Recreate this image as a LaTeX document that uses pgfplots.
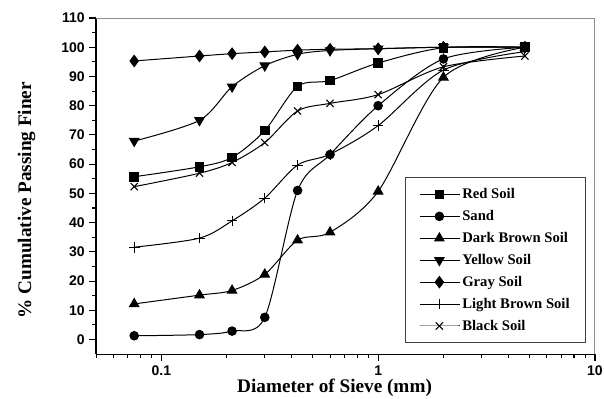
\documentclass[border=0pt]{standalone}
\usepackage{fontspec}
\setmainfont{Liberation Serif}
\newfontfamily\arialf{Liberation Sans}
\usepackage{pgfplots}
\pgfplotsset{compat=1.18}
\begin{document}
\begin{tikzpicture}
\begin{axis}[
  name=ax,
  scale only axis,
  width=374pt, height=252pt,
  xmode=log,
  xmin=0.05, xmax=10,
  ymin=-5, ymax=110,
  axis lines=left,
  axis line style={-, line width=0.9pt},
  xtick={0.1,1,10},
  xticklabels={0.1,1,10},
  xminorticks=true,
  minor xtick={0.05,0.06,0.07,0.08,0.09,0.2,0.3,0.4,0.5,0.6,0.7,0.8,0.9,2,3,4,5,6,7,8,9},
  ytick={0,10,...,110},
  minor y tick num=1,
  tick align=outside,
  major tick length=5pt,
  minor tick length=3pt,
  every tick/.style={black, line width=0.8pt},
  /pgf/number format/assume math mode=true,
  ticklabel style={font=\arialf\bfseries\fontsize{10.5}{12}\selectfont},
  xlabel={Diameter of Sieve (mm)},
  ylabel={\% Cumulative Passing Finer},
  every axis x label/.style={at={(axis description cs:0.478,-0.1)}, anchor=center, font=\bfseries\fontsize{14.4}{16}\selectfont},
  every axis y label/.style={at={(axis description cs:-0.139,0.458)}, anchor=center, rotate=90, font=\bfseries\fontsize{14.4}{16}\selectfont},
  legend style={at={(0.982,0.033)}, anchor=south east, draw=black!75, line width=0.5pt,
    font=\bfseries\fontsize{11}{13}\selectfont, row sep=3.3pt, inner xsep=10pt, inner ysep=6pt},
  legend cell align=left,
  legend image code/.code={\draw[mark repeat=2,mark phase=2] plot coordinates {(0cm,0cm) (0.52cm,0cm) (1.04cm,0cm)};},
]
\pgfplotsset{every axis plot/.append style={black, solid, line width=0.75pt, smooth, tension=0.5}}
\addplot[black, mark=square*, mark size=3.2pt, mark options={solid,fill=black}] coordinates {
 (0.075,55.7) (0.15,59.1) (0.212,62.3) (0.3,71.5) (0.425,86.6) (0.6,88.6) (1,94.6) (2,99.8) (4.75,100)};
\addlegendentry{Red Soil}
\addplot[black, mark=*, mark size=3.2pt, mark options={solid,fill=black}] coordinates {
 (0.075,1.3) (0.15,1.7) (0.212,2.9) (0.3,7.6) (0.425,51) (0.6,63.3) (1,80) (2,96) (4.75,100)};
\addlegendentry{Sand}
\addplot[black, mark=triangle*, mark size=4pt, mark options={solid,fill=black}] coordinates {
 (0.075,12.2) (0.15,15.2) (0.212,16.8) (0.3,22.3) (0.425,34) (0.6,36.7) (1,50.7) (2,89.7) (4.75,100)};
\addlegendentry{Dark Brown Soil}
\addplot[black, mark=triangle*, mark size=4pt, mark options={solid,fill=black,rotate=180}] coordinates {
 (0.075,67.9) (0.15,75) (0.212,86.5) (0.3,93.7) (0.425,97.6) (0.6,98.9) (1,99.5) (2,100) (4.75,100)};
\addlegendentry{Yellow Soil}
\addplot[black, mark=diamond*, mark size=4.2pt, mark options={solid,fill=black}] coordinates {
 (0.075,95.3) (0.15,97) (0.212,97.8) (0.3,98.4) (0.425,99) (0.6,99.3) (1,99.5) (2,100) (4.75,100)};
\addlegendentry{Gray Soil}
\addplot[black, mark=+, mark size=4pt, mark options={solid, line width=0.8pt}] coordinates {
 (0.075,31.6) (0.15,34.7) (0.212,40.6) (0.3,48.4) (0.425,59.7) (0.6,63.4) (1,73.2) (2,92.2) (4.75,98.5)};
\addlegendentry{Light Brown Soil}
\addplot[black, mark=x, mark size=3.8pt, mark options={solid, line width=0.8pt}] coordinates {
 (0.075,52.3) (0.15,56.9) (0.212,60.6) (0.3,67.4) (0.425,78.2) (0.6,80.8) (1,83.8) (2,93.3) (4.75,97)};
\addlegendentry{Black Soil}
\draw[black!45, line width=0.8pt] (rel axis cs:0,1) -- (rel axis cs:1,1) -- (rel axis cs:1,0);
\end{axis}
\pgfresetboundingbox
\path[use as bounding box] ([shift={(-72pt,-33pt)}]ax.south west) rectangle ([shift={(6.75pt,13.5pt)}]ax.north east);
\end{tikzpicture}
\end{document}
